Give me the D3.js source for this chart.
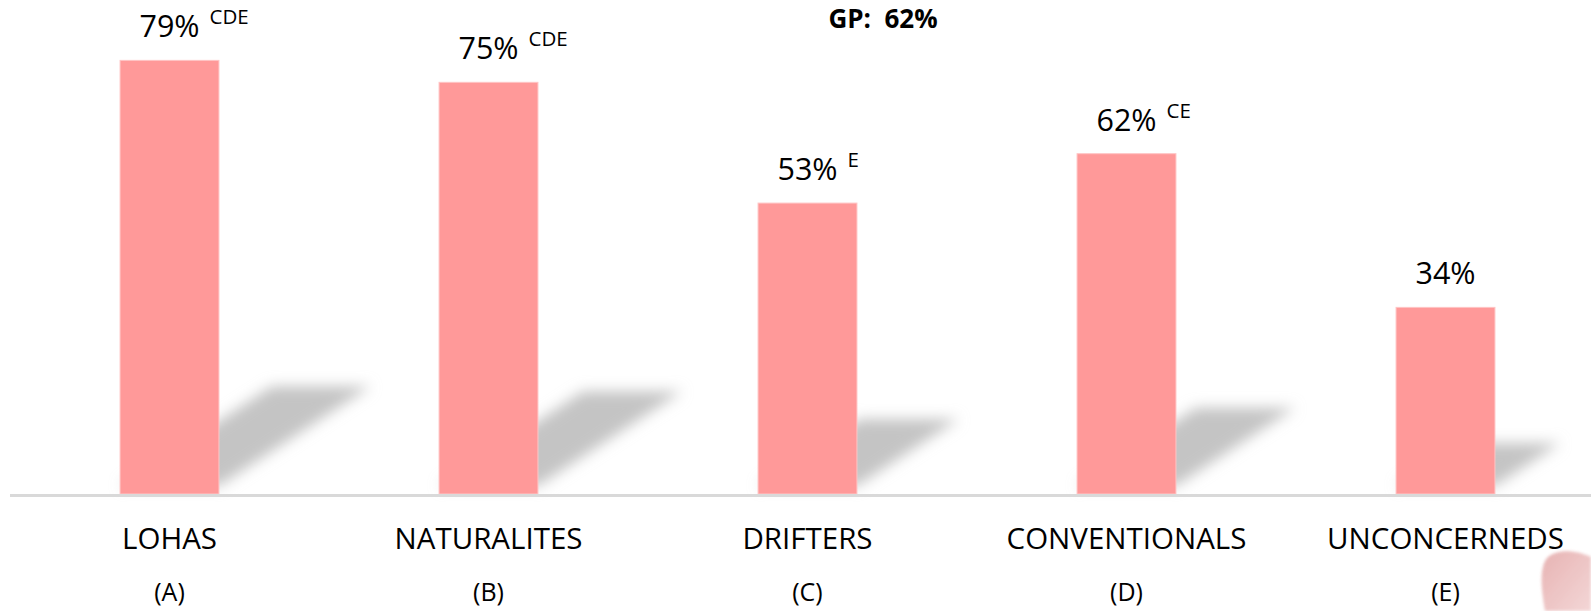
<!DOCTYPE html>
<html>
<head>
<meta charset="utf-8">
<script src="https://cdn.jsdelivr.net/npm/d3@7"></script>
<style>
  body { margin: 0; background: #fff; }
  svg { display: block; }
  text { font-family: "Open Sans", sans-serif; fill: #000; }
</style>
</head>
<body>
<script>
// chart data
const categories = ["LOHAS", "NATURALITES", "DRIFTERS", "CONVENTIONALS", "UNCONCERNEDS"];
const groupCodes = ["(A)", "(B)", "(C)", "(D)", "(E)"];
const values = [79, 75, 53, 62, 34];
const sigLetters = ["CDE", "CDE", "E", "CE", ""];
const gpLabel = "GP:  62%";

const width = 1591, height = 611;
const baseY = 494;

const svg = d3.select("body").append("svg")
    .attr("width", width)
    .attr("height", height);

const defs = svg.append("defs");
defs.append("filter")
    .attr("id", "blur")
    .attr("x", "-30%").attr("y", "-30%")
    .attr("width", "160%").attr("height", "160%")
    .append("feGaussianBlur")
    .attr("stdDeviation", 7);
defs.append("filter")
    .attr("id", "soft")
    .append("feGaussianBlur")
    .attr("stdDeviation", 1.5);

const pink = defs.append("linearGradient")
    .attr("id", "deco")
    .attr("x1", "0").attr("y1", "0")
    .attr("x2", "1").attr("y2", "1");
pink.append("stop").attr("offset", "0").attr("stop-color", "#e3a6a6");
pink.append("stop").attr("offset", "1").attr("stop-color", "#f2d0d0");

// scales
const x = d3.scaleBand()
    .domain(categories)
    .range([10, 1605])
    .paddingInner(0.69)
    .paddingOuter(0.345);
const y = d3.scaleLinear().domain([0, 90]).range([baseY, 0]);

const data = categories.map((c, i) => ({
    cat: c, code: groupCodes[i], value: values[i], sig: sigLetters[i]
}));

// bar shadows (skewed, blurred)
svg.append("g")
    .attr("filter", "url(#blur)")
    .selectAll("path")
    .data(data)
    .join("path")
    .attr("fill", "#c4c4c4")
    .attr("d", d => {
        const x0 = x(d.cat), x1 = x0 + x.bandwidth();
        const h = baseY - y(d.value);
        const dx = 0.35 * h, dy = 0.23 * h;
        const b = baseY - 8;
        return "M" + x0 + "," + b + "L" + x1 + "," + b +
            "L" + (x1 + dx) + "," + (b - dy) + "L" + (x0 + dx) + "," + (b - dy) + "Z";
    });

// bars
svg.append("g")
    .selectAll("rect")
    .data(data)
    .join("rect")
    .attr("x", d => x(d.cat))
    .attr("y", d => y(d.value))
    .attr("width", x.bandwidth())
    .attr("height", d => baseY - y(d.value))
    .attr("fill", "#ff9999")
    .attr("stroke", "#ffc4c4")
    .attr("stroke-width", 1);

// baseline
svg.append("line")
    .attr("x1", 10).attr("x2", width)
    .attr("y1", baseY + 1.5).attr("y2", baseY + 1.5)
    .attr("stroke", "#d9d9d9")
    .attr("stroke-width", 3);

// value labels with significance letters
const lab = svg.append("g")
    .selectAll("text")
    .data(data)
    .join("text")
    .attr("x", d => x(d.cat) + x.bandwidth() / 2)
    .attr("y", d => y(d.value) - 23)
    .attr("text-anchor", "middle")
    .style("font-size", "30.5px")
    .text(d => d.value + "%");

svg.append("g")
    .selectAll("text")
    .data(data)
    .join("text")
    .attr("x", function (d, i) {
        const bb = lab.nodes()[i].getBBox();
        return bb.x + bb.width + 10;
    })
    .attr("y", d => y(d.value) - 36)
    .style("font-size", "20.5px")
    .text(d => d.sig);

// category labels
svg.append("g")
    .selectAll("text")
    .data(data)
    .join("text")
    .attr("x", d => x(d.cat) + x.bandwidth() / 2)
    .attr("y", 549)
    .attr("text-anchor", "middle")
    .style("font-size", "29.5px")
    .text(d => d.cat);

svg.append("g")
    .selectAll("text")
    .data(data)
    .join("text")
    .attr("x", d => x(d.cat) + x.bandwidth() / 2)
    .attr("y", 601)
    .attr("text-anchor", "middle")
    .style("font-size", "25px")
    .text(d => d.code);

// title
svg.append("text")
    .attr("x", 883)
    .attr("y", 28)
    .attr("text-anchor", "middle")
    .style("font-size", "26px")
    .style("font-weight", "bold")
    .style("white-space", "pre")
    .text(gpLabel);

// decorative corner shape
svg.append("path")
    .attr("d", "M1545,611 C1541,588 1539,566 1548,557 C1560,548 1578,551 1591,557 L1591,611 Z")
    .attr("fill", "url(#deco)")
    .attr("filter", "url(#soft)")
    .attr("opacity", 0.85);
</script>
</body>
</html>
